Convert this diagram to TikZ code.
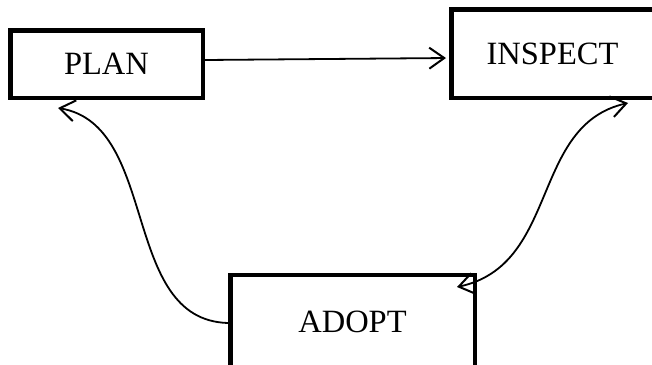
\documentclass[tikz,border=0pt]{standalone}
\usepackage{fontspec}
\setmainfont{Liberation Serif}
\usetikzlibrary{arrows.meta}
\tikzset{
  stage/.style={draw=black, line width=4.5pt, fill=white, inner sep=0pt,
    font=\fontsize{32.5}{38}\selectfont},
  link/.style={line width=1.8pt, black},
  barb/.tip={Straight Barb[length=15pt, width=21pt, line width=2pt]},
}
\begin{document}
\begin{tikzpicture}[x=1pt, y=-1pt]
  \useasboundingbox (0,0) rectangle (652,364);
  \fill[white] (0,0) rectangle (652,364);
  \clip (0,0) rectangle (652,364);

  % the three stages of the cycle
  \node[stage, minimum width=192.5pt, minimum height=67.5pt] (plan) at (106.5,64) {PLAN};
  \node[stage, minimum width=202.5pt, minimum height=88.5pt] (inspect) at (552.5,53.5) {INSPECT};
  \node[stage, minimum width=244.5pt, minimum height=93.5pt] (adopt) at (352.5,321.5) {ADOPT};

  % free ends of the curved connectors
  \coordinate (planin) at (58,108);
  \coordinate (inspin) at (628,103);
  \coordinate (adoptin) at (457,287);

  % plan -> inspect
  \draw[link, -{barb}, shorten >=3pt] ([yshift=4pt]plan.east) -- ([yshift=-4.5pt]inspect.west);
  % adopt -> plan
  \draw[link, -{barb}] ([yshift=-1.5pt]adopt.west) .. controls (120,320) and (160,125) .. (planin);
  % inspect <-> adopt
  \draw[link, {barb}-{barb}] (adoptin) .. controls (560,265) and (530,125) .. (inspin);
\end{tikzpicture}
\end{document}
